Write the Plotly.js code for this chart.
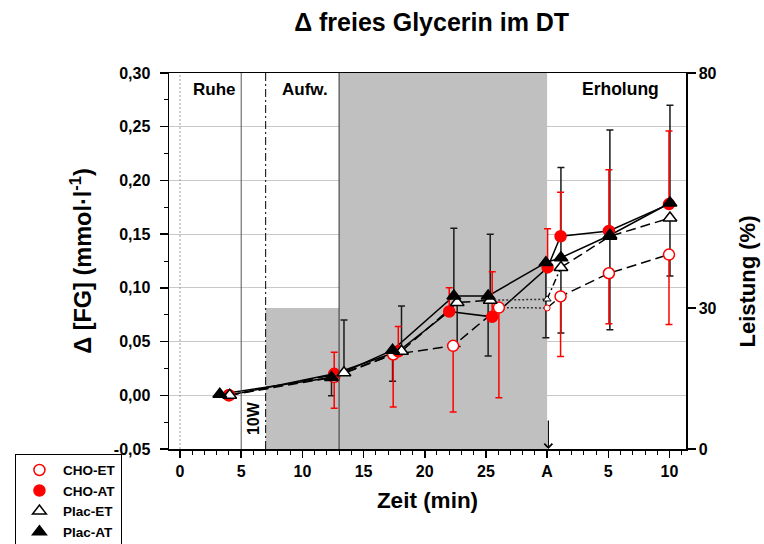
<!DOCTYPE html>
<html><head><meta charset="utf-8">
<script src="https://cdn.plot.ly/plotly-3.0.1.min.js"></script>
<style>html,body{margin:0;padding:0;background:#fff}#chart{width:764px;height:544px}</style>
</head><body><div id="chart"></div>
<script>
// ---- Leistung (power, % on right axis) profile ----
const leistungX = [7, 7, 13, 13, 30, 30];
const leistungY = [0, 30, 30, 80, 80, 0];

// phase separators (min)
const phaseLineX = [0, 5, 7, 13];

// tick labels
const xTickVals = [0, 5, 10, 15, 20, 25, 30, 35, 40];
const xTickText = ['0', '5', '10', '15', '20', '25', 'A', '5', '10'];
const yTickVals = [-0.05, 0, 0.05, 0.10, 0.15, 0.20, 0.25, 0.30];
const yTickText = ['-0,05', '0,00', '0,05', '0,10', '0,15', '0,20', '0,25', '0,30'];
const pTickVals = [0, 30, 80];

// ---- series ----
const choEtX     = [4.0, 12.6, 17.42, 22.32, 26.06, 31.1, 35.05, 39.96];
const choEtY     = [0.000, 0.017, 0.038, 0.046, 0.0816, 0.092, 0.1136, 0.131];
const choEtPlus  = [0, 0, 0, 0, 0, 0, 0, 0];
const choEtMinus = [0, 0.029, 0.049, 0.0615, 0.084, 0.056, 0.047, 0.065];

const choAtX     = [4.0, 12.6, 17.84, 22.0, 25.51, 30.04, 31.1, 35.05, 39.96];
const choAtY     = [0.000, 0.020, 0.041, 0.078, 0.073, 0.119, 0.148, 0.153, 0.178];
const choAtPlus  = [0, 0.020, 0.023, 0.022, 0.042, 0.036, 0.041, 0.057, 0.068];
const choAtMinus = [0, 0, 0, 0, 0, 0, 0, 0, 0];

const placEtX     = [4.06, 13.4, 18.1, 22.65, 25.35, 31.13, 35.13, 40.04];
const placEtY     = [0.000, 0.021, 0.041, 0.0863, 0.0885, 0.119, 0.148, 0.165];
const placEtPlus  = [0, 0.049, 0.042, 0, 0.0615, 0, 0, 0];
const placEtMinus = [0, 0, 0, 0.041, 0, 0.061, 0.087, 0.054];

const placAtX     = [3.25, 12.38, 17.37, 22.38, 25.18, 29.9, 31.13, 35.13, 40.04];
const placAtY     = [0.001, 0.0165, 0.042, 0.0925, 0.0925, 0.1235, 0.128, 0.149, 0.179];
const placAtPlus  = [0, 0, 0, 0.063, 0, 0, 0.084, 0.098, 0.091];
const placAtMinus = [0, 0.017, 0.029, 0, 0.056, 0.070, 0, 0, 0];

// ET values carried to "A"
const etAX = [30];
const choEtAY = [0.0813];
const placEtAY = [0.0894];
const lastEt = 4; // index of last point before A

const RED = '#ff0000';
const BLK = '#000000';
const FONT = 'Liberation Sans, Arial, Helvetica, sans-serif';

function line(x, y, dash, color) {
  return {x: x, y: y, yaxis: 'y2', mode: 'lines', type: 'scatter', showlegend: false,
    hoverinfo: 'skip', line: {color: color || BLK, width: 1.5, dash: dash}};
}
function errs(x, y, plus, minus, color) {
  return {x: x, y: y, yaxis: 'y2', mode: 'markers', type: 'scatter', showlegend: false,
    hoverinfo: 'skip', marker: {size: 2, opacity: 0},
    error_y: {type: 'data', symmetric: false, array: plus, arrayminus: minus,
      color: color, thickness: 1.5, width: 3.5}};
}
function marks(name, x, y, symbol, fill, lc, size) {
  return {name: name, x: x, y: y, yaxis: 'y2', mode: 'markers', type: 'scatter',
    marker: {symbol: symbol, size: size, color: fill, line: {color: lc, width: 1.5}}};
}

const traces = [
  {x: leistungX, y: leistungY, yaxis: 'y', type: 'scatter', mode: 'lines', fill: 'toself',
   fillcolor: '#c0c0c0', line: {width: 0, color: '#c0c0c0'}, showlegend: false, hoverinfo: 'skip'},
  // CHO-ET lines
  line(choEtX.slice(0, lastEt + 1), choEtY.slice(0, lastEt + 1), '10px,5px'),
  line([choEtX[lastEt], etAX[0]], [choEtY[lastEt], choEtAY[0]], '2px,2px', '#333'),
  line(etAX.concat(choEtX.slice(lastEt + 1)), choEtAY.concat(choEtY.slice(lastEt + 1)), '10px,5px'),
  // CHO-AT
  line(choAtX, choAtY, 'solid'),
  // Plac-ET lines
  line(placEtX.slice(0, lastEt + 1), placEtY.slice(0, lastEt + 1), '10px,5px'),
  line([placEtX[lastEt], etAX[0]], [placEtY[lastEt], placEtAY[0]], '2px,2px', '#333'),
  line([etAX[0], placEtX[lastEt + 1]], [placEtAY[0], placEtY[lastEt + 1]], '7px,3px,2px,3px'),
  line(placEtX.slice(lastEt + 1), placEtY.slice(lastEt + 1), '10px,5px'),
  // Plac-AT
  line(placAtX, placAtY, 'solid'),
  // error bars
  errs(placEtX, placEtY, placEtPlus, placEtMinus, '#1a1a1a'),
  errs(placAtX, placAtY, placAtPlus, placAtMinus, '#1a1a1a'),
  errs(choEtX, choEtY, choEtPlus, choEtMinus, RED),
  errs(choAtX, choAtY, choAtPlus, choAtMinus, RED),
  // small A markers
  {x: etAX, y: choEtAY, yaxis: 'y2', mode: 'markers', type: 'scatter', showlegend: false, hoverinfo: 'skip',
   marker: {symbol: 'circle', size: 6, color: 'white', line: {color: RED, width: 1}}},
  {x: etAX, y: placEtAY, yaxis: 'y2', mode: 'markers', type: 'scatter', showlegend: false, hoverinfo: 'skip',
   marker: {symbol: 'triangle-up', size: 7, color: 'white', line: {color: BLK, width: 1}}},
  // main markers
  marks('CHO-ET', choEtX, choEtY, 'circle', 'white', RED, 11),
  marks('CHO-AT', choAtX, choAtY, 'circle', RED, RED, 11),
  marks('Plac-ET', placEtX, placEtY, 'triangle-up', 'white', BLK, 12),
  marks('Plac-AT', placAtX, placAtY, 'triangle-up', BLK, BLK, 12)
];

const bold = (s) => ({family: FONT, size: s, color: '#000', weight: 'bold'});

const shapes = [
  {type: 'line', xref: 'x', yref: 'paper', x0: phaseLineX[0], x1: phaseLineX[0], y0: 0, y1: 1,
   line: {color: '#999', width: 1, dash: '2px,2px'}},
  {type: 'line', xref: 'x', yref: 'paper', x0: phaseLineX[1], x1: phaseLineX[1], y0: 0, y1: 1,
   line: {color: '#555', width: 1}},
  {type: 'line', xref: 'x', yref: 'paper', x0: phaseLineX[2], x1: phaseLineX[2], y0: 0, y1: 1,
   line: {color: '#000', width: 1, dash: '8px,3px,2px,3px'}},
  {type: 'line', xref: 'x', yref: 'paper', x0: phaseLineX[3], x1: phaseLineX[3], y0: 0, y1: 1,
   line: {color: '#333', width: 1}}
];

const annotations = [
  {text: 'Ruhe', x: 2.84, y: 0.285, xref: 'x', yref: 'y2', showarrow: false, font: bold(17)},
  {text: 'Aufw.', x: 10.2, y: 0.285, xref: 'x', yref: 'y2', showarrow: false, font: bold(17)},
  {text: 'Erholung', x: 35.96, y: 0.285, xref: 'x', yref: 'y2', showarrow: false, font: bold(17.5)},
  {text: '10W', x: 5.95, y: -0.0214, xref: 'x', yref: 'y2', showarrow: false, textangle: -90, font: bold(16)},
  {text: 'Leistung (%)', x: 1.118, y: 0.4455, xref: 'paper', yref: 'paper', showarrow: false,
   textangle: -90, xanchor: 'center', yanchor: 'middle', font: bold(22)},
  {text: '', x: 30.1, y: -0.05, xref: 'x', yref: 'y2', showarrow: true, ax: 0, ay: -30,
   arrowhead: 4, arrowsize: 1.3, arrowwidth: 1.2, arrowcolor: '#000'}
];

const layout = {
  width: 764, height: 544,
  margin: {l: 169, r: 78, t: 73, b: 95, autoexpand: false},
  paper_bgcolor: '#fff', plot_bgcolor: '#fff',
  font: {family: FONT, color: '#000'},
  title: {text: 'Δ freies Glycerin im DT', font: bold(25), xref: 'paper', x: 0.508, xanchor: 'center',
          yref: 'container', y: 0.96, yanchor: 'middle'},
  showlegend: true,
  legend: {x: -0.298, y: -0.0125, xanchor: 'left', yanchor: 'top', bgcolor: '#fff',
           bordercolor: '#000', borderwidth: 1, font: bold(13.5), tracegroupgap: 0, itemwidth: 37},
  xaxis: {range: [-0.9, 41.35], tickmode: 'array', tickvals: xTickVals, ticktext: xTickText,
    automargin: false,
    ticks: 'outside', ticklen: 7, tickwidth: 1.5, tickcolor: '#000',
    showline: true, linecolor: '#000', linewidth: 1.5, mirror: true,
    showgrid: false, zeroline: false, tickfont: bold(16),
    minor: {tickmode: 'linear', tick0: 0, dtick: 1, ticks: 'outside', ticklen: 4, tickwidth: 1, tickcolor: '#000', showgrid: false},
    title: {text: 'Zeit (min)', font: bold(22.5), standoff: 13}},
  yaxis: {range: [0, 80], side: 'right', tickmode: 'array', tickvals: pTickVals, automargin: false,
    ticks: 'outside', ticklen: 8, tickwidth: 1.5, tickcolor: '#000',
    showline: true, linecolor: '#000', linewidth: 1.5, showgrid: false, zeroline: false,
    tickfont: bold(16)},
  yaxis2: {overlaying: 'y', side: 'left', range: [-0.05, 0.30], tickmode: 'array', automargin: false,
    tickvals: yTickVals, ticktext: yTickText,
    ticks: 'outside', ticklen: 8, tickwidth: 1.5, tickcolor: '#000',
    showline: true, linecolor: '#000', linewidth: 1.5,
    showgrid: true, gridcolor: '#c8c8c8', gridwidth: 1, zeroline: false,
    ticklabelstandoff: 6, tickfont: bold(16),
    minor: {tickmode: 'linear', tick0: 0, dtick: 0.025, ticks: 'outside', ticklen: 4, tickwidth: 1, tickcolor: '#000', showgrid: false},
    title: {text: 'Δ [FG] (mmol·l<sup>-1</sup>)', font: bold(23.5), standoff: 15}},
  shapes: shapes,
  annotations: annotations
};

Plotly.newPlot('chart', traces, layout, {staticPlot: true, displayModeBar: false});
</script>
</body></html>
